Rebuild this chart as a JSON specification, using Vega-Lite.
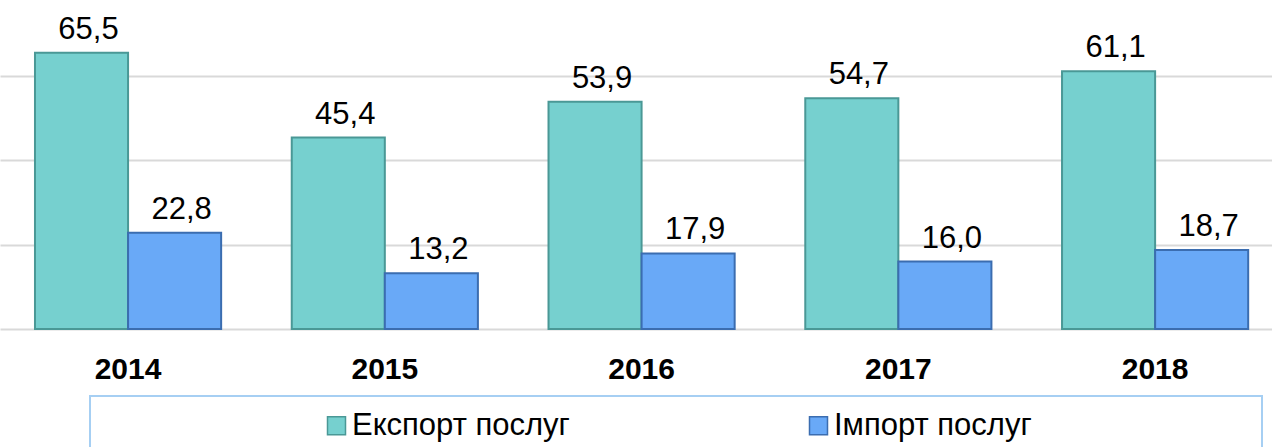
{
  "$schema": "https://vega.github.io/schema/vega-lite/v6.json",
  "width": 1272,
  "height": 329,
  "autosize": {"type": "none"},
  "padding": {"left": 0, "top": 0, "right": 0, "bottom": 118},
  "background": "white",
  "config": {
    "view": {"stroke": null},
    "font": "Liberation Sans",
    "locale": {"number": {"decimal": ",", "thousands": "\u00a0", "grouping": [3], "currency": ["", ""]}}
  },
  "data": {
    "values": [
      {"year": "2014", "series": "Експорт послуг", "value": 65.5},
      {"year": "2014", "series": "Імпорт послуг", "value": 22.8},
      {"year": "2015", "series": "Експорт послуг", "value": 45.4},
      {"year": "2015", "series": "Імпорт послуг", "value": 13.2},
      {"year": "2016", "series": "Експорт послуг", "value": 53.9},
      {"year": "2016", "series": "Імпорт послуг", "value": 17.9},
      {"year": "2017", "series": "Експорт послуг", "value": 54.7},
      {"year": "2017", "series": "Імпорт послуг", "value": 16.0},
      {"year": "2018", "series": "Експорт послуг", "value": 61.1},
      {"year": "2018", "series": "Імпорт послуг", "value": 18.7}
    ]
  },
  "encoding": {
    "x": {
      "field": "year",
      "type": "nominal",
      "scale": {"paddingInner": 0.275, "paddingOuter": 0.1145, "align": 0.595},
      "axis": {
        "title": null,
        "domain": false,
        "ticks": false,
        "labelAngle": 0,
        "labelFontSize": 30,
        "labelFontWeight": "bold",
        "labelColor": "#000000",
        "labelPadding": 25,
        "labelFont": "Liberation Sans"
      }
    },
    "xOffset": {
      "field": "series",
      "type": "nominal",
      "scale": {"domain": ["Експорт послуг", "Імпорт послуг"], "paddingInner": 0, "paddingOuter": 0}
    },
    "y": {
      "field": "value",
      "type": "quantitative",
      "scale": {"domain": [0, 78], "nice": false},
      "axis": {
        "title": null,
        "domain": false,
        "ticks": false,
        "labels": false,
        "values": [0, 20, 40, 60],
        "grid": true,
        "gridColor": "#D9D9D9",
        "gridWidth": 2
      }
    }
  },
  "layer": [
    {
      "mark": {"type": "bar", "strokeWidth": 2},
      "encoding": {
        "color": {
          "field": "series",
          "type": "nominal",
          "scale": {"domain": ["Експорт послуг", "Імпорт послуг"], "range": ["#76D0CF", "#69A9F7"]},
          "legend": {
            "orient": "none",
            "legendX": 90,
            "legendY": 396,
            "direction": "horizontal",
            "title": "\u00a0\u200b",
            "titleFontSize": 1,
            "titleOrient": "left",
            "titlePadding": 217,
            "padding": 14,
            "strokeColor": "#A6CFF3",
            "fillColor": "white",
            "symbolType": "square",
            "symbolSize": 324,
            "symbolOpacity": 1,
            "symbolStrokeWidth": 1.5,
            "labelFontSize": 31,
            "labelFont": "Liberation Sans",
            "labelColor": "#000000",
            "labelOffset": 0,
            "labelLimit": 0,
            "columnPadding": 17,
            "labelExpr": "datum.label + '\u00a0\u00a0\u00a0\u00a0\u00a0\u00a0\u00a0\u00a0\u00a0\u00a0\u00a0\u00a0\u00a0\u00a0\u00a0\u00a0\u00a0\u00a0\u00a0\u00a0\u00a0\u00a0\u00a0\u00a0\u00a0\u200b'",
            "encode": {
              "legend": {"update": {"strokeWidth": {"value": 2}}},
              "symbols": {
                "update": {
                  "stroke": {"signal": "datum.value == 'Експорт послуг' ? '#3E8583' : '#2F5C9A'"}
                }
              }
            }
          }
        },
        "stroke": {
          "field": "series",
          "type": "nominal",
          "scale": {"domain": ["Експорт послуг", "Імпорт послуг"], "range": ["#4A9896", "#3B6DB0"]},
          "legend": null
        }
      }
    },
    {
      "mark": {
        "type": "text",
        "fontSize": 31,
        "font": "Liberation Sans",
        "color": "#000000",
        "baseline": "alphabetic",
        "align": "center",
        "dy": -14,
        "dx": 7
      },
      "encoding": {
        "text": {"field": "value", "type": "quantitative", "format": ".1f"}
      }
    }
  ]
}
